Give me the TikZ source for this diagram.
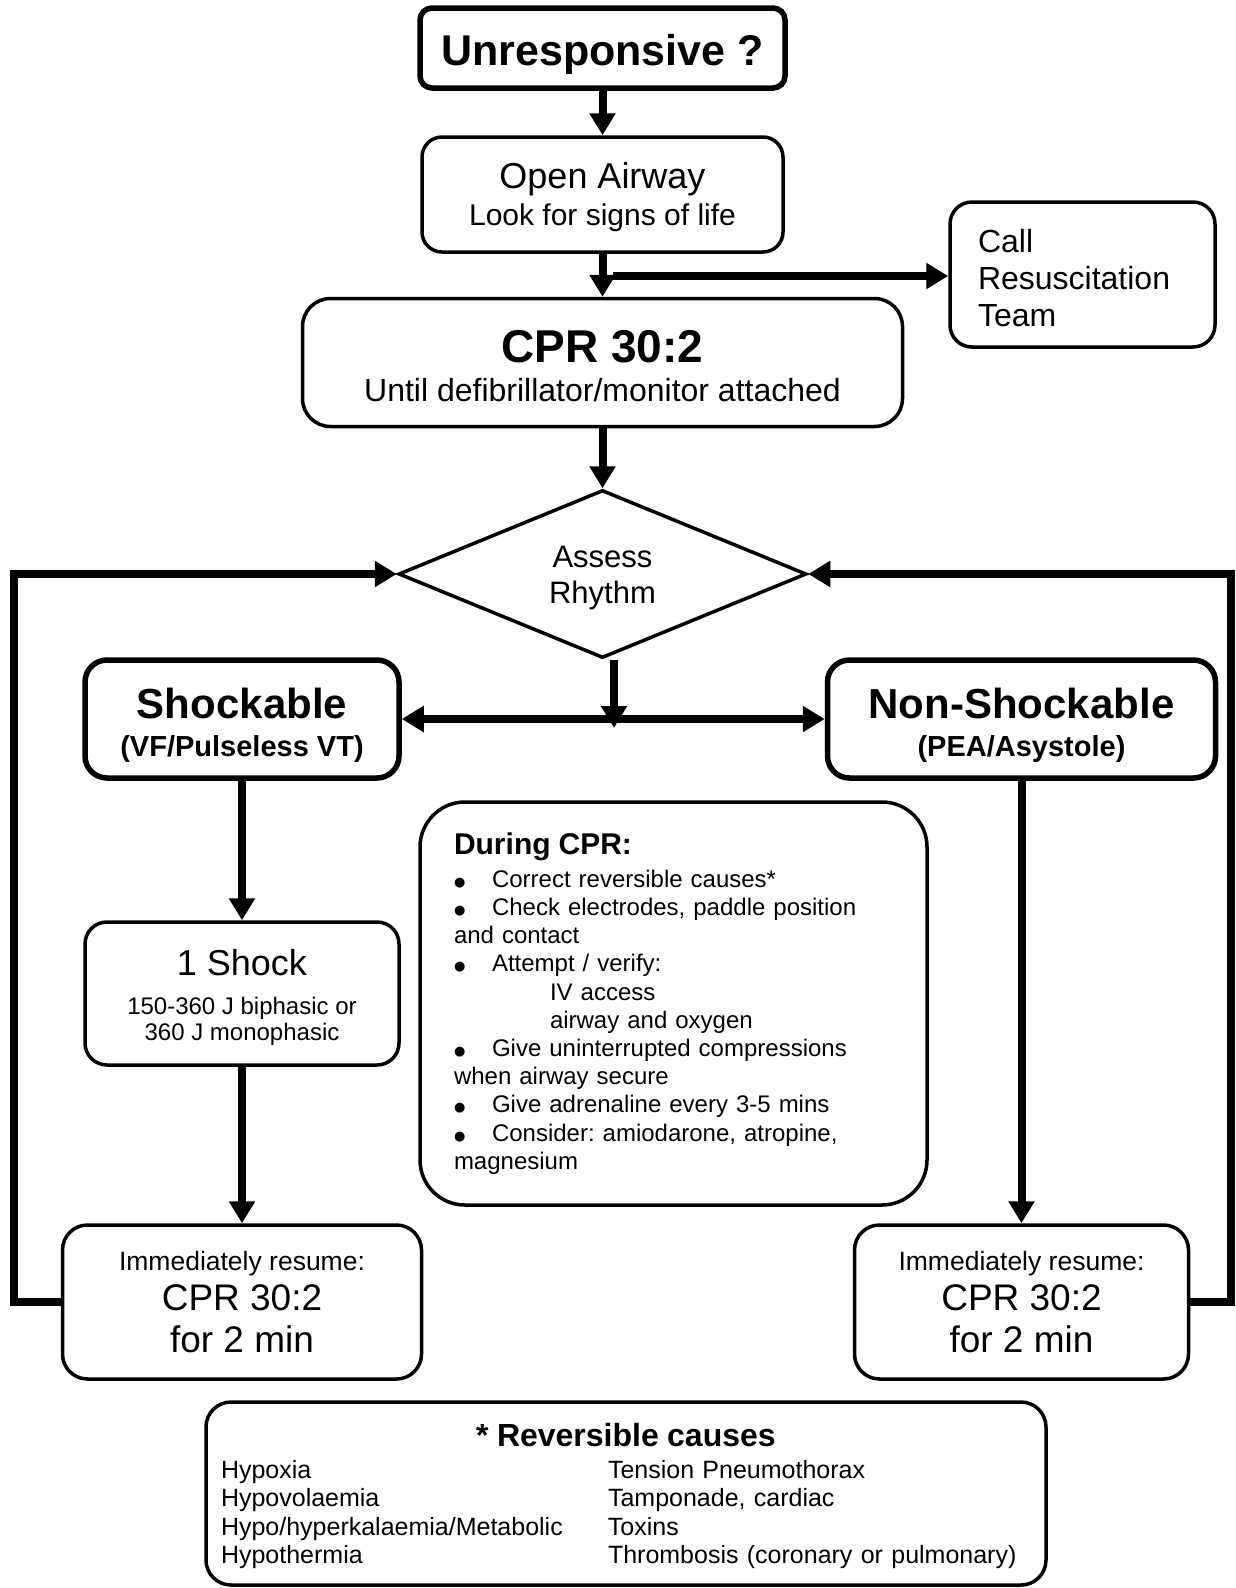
\documentclass[tikz,border=0pt]{standalone}
\usepackage{fontspec}
\setmainfont{Liberation Sans}
\newfontfamily\dotfont{DejaVu Sans}
\usetikzlibrary{shapes.geometric,arrows.meta}
\frenchspacing

\newcommand{\bul}{\makebox[38pt][l]{\raisebox{1pt}{\dotfont\fontsize{13}{13}\selectfont ●}}}
\newcommand{\topstrut}[1]{\rule{0pt}{#1pt}}

\tikzset{
  box/.style={draw, line width=3.5pt, rounded corners=22pt, inner sep=0pt, align=center},
  heavy/.style={box, line width=5.5pt},
  arr/.style={line width=8pt, -{Triangle[length=22pt,width=25pt]}},
  darr/.style={line width=8pt, {Triangle[length=22pt,width=25pt]}-{Triangle[length=22pt,width=25pt]}},
}

\begin{document}
\begin{tikzpicture}[x=1pt, y=-1pt]
\useasboundingbox (0,0) rectangle (1236,1588);

% top of the chart
\node[heavy, rounded corners=12pt, minimum width=365pt, minimum height=80pt, font=\bfseries\fontsize{43}{50}\selectfont] at (602.5,48) (unresp) {\topstrut{43}Unresponsive ?};
\node[box, rounded corners=20pt, minimum width=361pt, minimum height=115pt, font=\fontsize{30}{37}\selectfont] at (602.5,194.5) (airway) {{\fontsize{36}{37}\selectfont\topstrut{32}Open Airway}\\Look for signs of life};
\node[box, rounded corners=28pt, minimum width=600pt, minimum height=128pt, font=\fontsize{32}{39}\selectfont] at (602.5,362.5) (cpr) {{\bfseries\fontsize{46}{39}\selectfont\topstrut{39}CPR 30:2}\\Until defibrillator/monitor attached};
\node[box, align=left, text width=209pt, inner xsep=28pt, minimum height=145pt, font=\fontsize{32}{37}\selectfont] at (1082.5,274.5) (call) {\topstrut{29.5}Call\\Resuscitation\\Team};
\node[draw, diamond, aspect=2.4, line width=3.5pt, minimum width=408pt, minimum height=168pt, inner sep=0pt, font=\fontsize{31}{36}\selectfont] at (602.5,574) (rhythm) {\raisebox{-4pt}[\height][\depth]{\begin{tabular}{@{}c@{}}Assess\\Rhythm\end{tabular}}};

% the two rhythms
\node[heavy, minimum width=314pt, minimum height=118pt, font=\bfseries\fontsize{29}{38}\selectfont] at (242,719) (shock) {{\fontsize{42}{38}\selectfont\topstrut{42.6}Shockable}\\(VF/Pulseless VT)};
\node[heavy, minimum width=388pt, minimum height=118pt, font=\bfseries\fontsize{29}{38}\selectfont] at (1021.5,719) (nonshock) {{\fontsize{42}{38}\selectfont\topstrut{42.6}Non-Shockable}\\(PEA/Asystole)};
\node[box, minimum width=314pt, minimum height=143pt, font=\fontsize{24}{26}\selectfont] at (242,993.5) (oneshock) {{\fontsize{36}{26}\selectfont\topstrut{34}1 Shock}\\[13pt]150-360 J biphasic or\\360 J monophasic};
\node[box, rounded corners=25pt, minimum width=359pt, minimum height=154pt, font=\fontsize{37}{42}\selectfont] at (242,1302) (lres) {{\fontsize{26.5}{42}\selectfont Immediately resume:}\\[-2pt]CPR 30:2\\for 2 min};
\node[box, rounded corners=25pt, minimum width=334pt, minimum height=154pt, font=\fontsize{37}{42}\selectfont] at (1021.5,1302) (rres) {{\fontsize{26.5}{42}\selectfont Immediately resume:}\\[-2pt]CPR 30:2\\for 2 min};

% notes
\node[box, rounded corners=45pt, align=left, text width=439pt, inner xsep=34pt, minimum height=403pt, font=\fontsize{24}{28.2}\selectfont] at (673.5,1003.5) (during) {{\bfseries\fontsize{30}{28}\selectfont During CPR:}\\[4.8pt]
\bul Correct reversible causes*\\
\bul Check electrodes, paddle position\\
and contact\\
\bul Attempt / verify:\\
\hspace*{96pt}IV access\\
\hspace*{96pt}airway and oxygen\\
\bul Give uninterrupted compressions\\
when airway secure\\
\bul Give adrenaline every 3-5 mins\\
\bul Consider: amiodarone, atropine,\\
magnesium};
\node[box, rounded corners=25pt, align=left, text width=810pt, inner xsep=15pt, minimum height=183pt, font=\fontsize{25}{28.5}\selectfont] at (626,1493.5) (causes) {\makebox[810pt][c]{\bfseries\fontsize{32}{28.5}\selectfont\topstrut{29}* Reversible causes}\\[3pt]
\makebox[387pt][l]{Hypoxia}Tension Pneumothorax\\
\makebox[387pt][l]{Hypovolaemia}Tamponade, cardiac\\
\makebox[387pt][l]{Hypo/hyperkalaemia/Metabolic}Toxins\\
\makebox[387pt][l]{Hypothermia}Thrombosis (coronary or pulmonary)};

\coordinate (split) at (613,276);
\coordinate (fork) at (614,728);
\coordinate (lbend) at (14,0);
\coordinate (rbend) at (1231,0);

\path [arr]
    (unresp) edge (airway)
    (airway) edge (cpr)
    (cpr) edge (rhythm)
    (shock) edge (oneshock)
    (oneshock) edge (lres)
    (nonshock) edge (rres);
\draw[arr] (split) -- (split -| call.west);
\draw[arr] (rhythm.south -| fork) -- (fork);
\draw[darr] (shock) -- (nonshock);

% loops back to the rhythm check
\draw[arr] (lres.west) -- (lres.west -| lbend) |- (rhythm.west);
\draw[arr] (rres.east) -- (rres.east -| rbend) |- (rhythm.east);
\end{tikzpicture}
\end{document}
